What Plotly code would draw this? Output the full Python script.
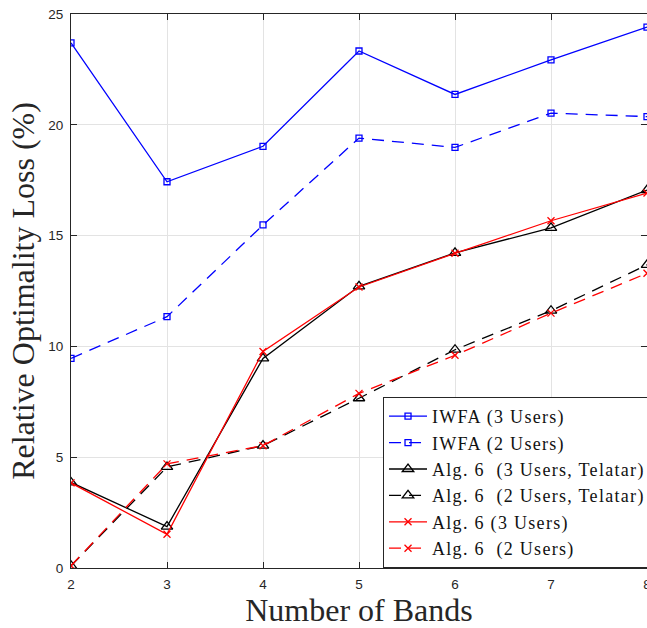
import plotly.graph_objects as go

# Number of frequency bands on the x axis
bands = [2, 3, 4, 5, 6, 7, 8]

# Relative optimality loss (%) per method
iwfa_3users = [23.7, 17.43, 19.03, 23.33, 21.37, 22.93, 24.41]
iwfa_2users = [9.46, 11.34, 15.48, 19.40, 18.98, 20.53, 20.37]
alg6_3users_telatar = [3.86, 1.87, 9.46, 12.71, 14.22, 15.35, 17.05]
alg6_2users_telatar = [0.10, 4.56, 5.52, 7.66, 9.85, 11.61, 13.68]
alg6_3users = [3.84, 1.52, 9.77, 12.68, 14.20, 15.67, 16.92]
alg6_2users = [0.10, 4.70, 5.52, 7.88, 9.60, 11.50, 13.30]

series = [
    ("IWFA (3 Users)", iwfa_3users, "#0000ff", "solid", "square-open", 6),
    ("IWFA (2 Users)", iwfa_2users, "#0000ff", "12px,8px", "square-open", 6),
    ("Alg. 6  (3 Users, Telatar)", alg6_3users_telatar, "#000000", "solid", "triangle-up-open", 10),
    ("Alg. 6  (2 Users, Telatar)", alg6_2users_telatar, "#000000", "12px,8px", "triangle-up-open", 10),
    ("Alg. 6 (3 Users)", alg6_3users, "#ff0000", "solid", "x-thin-open", 7),
    ("Alg. 6  (2 Users)", alg6_2users, "#ff0000", "12px,8px", "x-thin-open", 7),
]

fig = go.Figure()
for name, values, color, dash, symbol, size in series:
    # slightly spread letters so the serif legend text reads wide
    label = "<span style='letter-spacing:1.3px'>" + name.replace("  ", "\u00a0 ") + "</span>"
    fig.add_trace(go.Scatter(
        x=bands, y=values, name=label, mode="lines+markers",
        line=dict(color=color, width=1.3, dash=dash),
        marker=dict(symbol=symbol, size=size, color=color,
                    line=dict(color=color, width=1.3)),
    ))

axis_common = dict(
    showgrid=True, gridcolor="#e3e3e3", gridwidth=1,
    showline=True, linecolor="#262626", linewidth=1, mirror="ticks",
    ticks="inside", ticklen=6, tickcolor="#262626",
    tickfont=dict(family="Liberation Sans", size=13.5, color="#262626"),
    ticklabeloverflow="allow", ticklabelstandoff=4,
    zeroline=False,
)

fig.update_xaxes(
    range=[2, 8], tickvals=bands,
    title=dict(text="Number of Bands",
               font=dict(family="Liberation Serif", size=32, color="#262626"),
               standoff=6),
    **axis_common,
)
fig.update_yaxes(
    range=[0, 25], tickvals=[0, 5, 10, 15, 20, 25],
    title=dict(text="Relative Optimality Loss (%)",
               font=dict(family="Liberation Serif", size=32, color="#262626"),
               standoff=4),
    **axis_common,
)

fig.update_layout(
    width=647, height=628,
    margin=dict(l=71, r=0, t=14, b=60, autoexpand=False),
    paper_bgcolor="white", plot_bgcolor="white",
    legend=dict(
        x=0.5417, y=0, xanchor="left", yanchor="bottom",
        bgcolor="white", bordercolor="#262626", borderwidth=1,
        font=dict(family="Liberation Serif", size=18, color="#111111"),
        tracegroupgap=0, itemwidth=38,
    ),
)

fig.write_html("out.html")
